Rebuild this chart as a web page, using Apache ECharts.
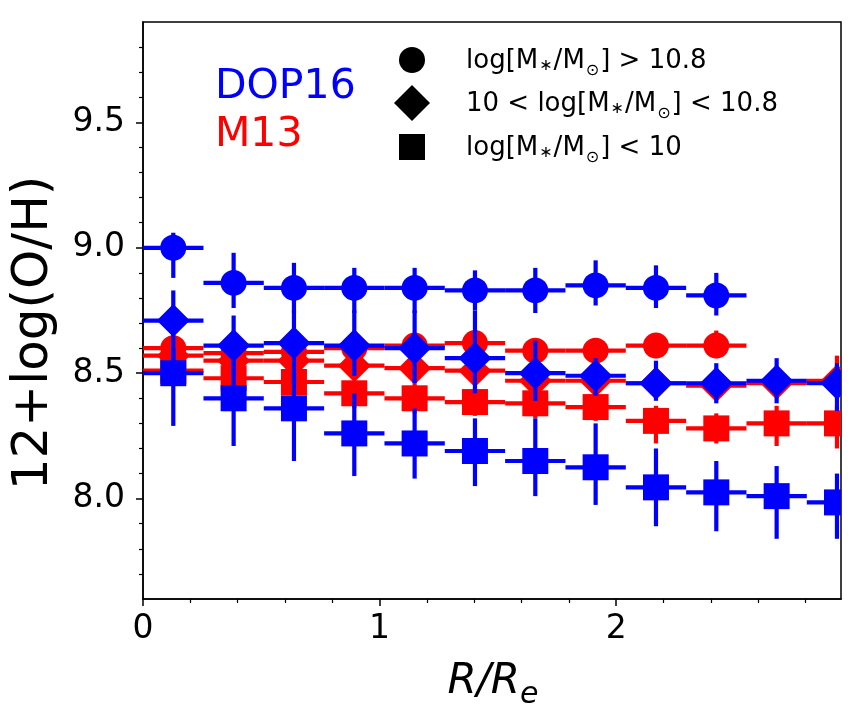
<!DOCTYPE html>
<html>
<head>
<meta charset="utf-8">
<script src="https://cdn.jsdelivr.net/npm/echarts@6.0.0/dist/echarts.min.js"></script>
<style>
  html, body { margin: 0; padding: 0; background: #fff; }
  #chart { width: 864px; height: 721px; }
</style>
</head>
<body>
<div id="chart"></div>
<script>
// radial bins (R/Re), bin half-width used for horizontal error bars
const xCenters = [0.128, 0.383, 0.638, 0.893, 1.148, 1.403, 1.658, 1.913, 2.168, 2.423, 2.678, 2.933];
const xHalfWidth = 0.1275;

// DOP16 (blue)
const dopHigh    = [9.00, 8.86, 8.84, 8.84, 8.84, 8.83, 8.83, 8.85, 8.84, 8.81];
const dopHighLo  = [8.88, 8.76, 8.74, 8.74, 8.74, 8.75, 8.74, 8.77, 8.76, 8.73];
const dopHighHi  = [9.06, 8.98, 8.94, 8.92, 8.92, 8.91, 8.92, 8.95, 8.93, 8.90];
const dopMid     = [8.71, 8.61, 8.62, 8.61, 8.60, 8.56, 8.50, 8.49, 8.46, 8.46, 8.47, 8.46];
const dopMidLo   = [8.55, 8.49, 8.46, 8.49, 8.46, 8.42, 8.39, 8.41, 8.39, 8.38, 8.38, 8.35];
const dopMidHi   = [8.83, 8.73, 8.75, 8.75, 8.75, 8.75, 8.63, 8.56, 8.55, 8.54, 8.56, 8.54];
const dopLow     = [8.50, 8.40, 8.36, 8.26, 8.22, 8.19, 8.15, 8.125, 8.045, 8.025, 8.01, 7.985];
const dopLowLo   = [8.29, 8.21, 8.15, 8.09, 8.08, 8.05, 8.01, 7.975, 7.89, 7.87, 7.84, 7.84];
const dopLowHi   = [8.60, 8.55, 8.50, 8.42, 8.36, 8.32, 8.32, 8.30, 8.20, 8.15, 8.13, 8.10];

// M13 (red)
const m13High    = [8.60, 8.58, 8.585, 8.60, 8.61, 8.62, 8.59, 8.59, 8.61, 8.61];
const m13HighLo  = [8.55, 8.53, 8.54, 8.55, 8.56, 8.57, 8.54, 8.54, 8.56, 8.56];
const m13HighHi  = [8.65, 8.63, 8.63, 8.65, 8.66, 8.67, 8.64, 8.64, 8.66, 8.67];
const m13Mid     = [8.57, 8.55, 8.55, 8.53, 8.52, 8.51, 8.47, 8.47, 8.46, 8.45, 8.46, 8.47];
const m13MidLo   = [8.52, 8.50, 8.50, 8.48, 8.47, 8.46, 8.42, 8.42, 8.41, 8.40, 8.41, 8.40];
const m13MidHi   = [8.62, 8.60, 8.60, 8.58, 8.57, 8.56, 8.52, 8.52, 8.51, 8.50, 8.52, 8.57];
const m13Low     = [8.51, 8.48, 8.465, 8.42, 8.40, 8.385, 8.38, 8.365, 8.31, 8.28, 8.30, 8.30];
const m13LowLo   = [8.45, 8.42, 8.40, 8.36, 8.34, 8.33, 8.32, 8.31, 8.22, 8.22, 8.21, 8.20];
const m13LowHi   = [8.56, 8.54, 8.53, 8.47, 8.46, 8.44, 8.44, 8.42, 8.37, 8.34, 8.37, 8.37];

// axis ticks
const xMajorTicks = [0, 1, 2];
const xMinorTicks = [0.2, 0.4, 0.6, 0.8, 1.2, 1.4, 1.6, 1.8, 2.2, 2.4, 2.6, 2.8];
const yMajorTicks = [8.0, 8.5, 9.0, 9.5];
const yMinorTicks = [7.7, 7.8, 7.9, 8.1, 8.2, 8.3, 8.4, 8.6, 8.7, 8.8, 8.9, 9.1, 9.2, 9.3, 9.4, 9.6, 9.7, 9.8];

const FONT = 'DejaVu Sans';
const BLUE = '#0000ff';
const RED = '#ff0000';

function markerShape(kind, cx, cy) {
    if (kind === 'circle') return { type: 'circle', shape: { cx: cx, cy: cy, r: 13 } };
    if (kind === 'square') return { type: 'rect', shape: { x: cx - 13, y: cy - 13, width: 26, height: 26 } };
    const h = 16.5;
    return { type: 'polygon', shape: { points: [[cx, cy - h], [cx + h, cy], [cx, cy + h], [cx - h, cy]] } };
}

function errSeries(name, color, kind, vals, lo, hi) {
    return {
        type: 'custom',
        name: name,
        clip: true,
        data: vals.map((v, i) => [xCenters[i], v, lo[i], hi[i]]),
        renderItem: function (params, api) {
            const x = api.value(0), y = api.value(1);
            const c = api.coord([x, y]);
            const l = api.coord([x - xHalfWidth, y]);
            const r = api.coord([x + xHalfWidth, y]);
            const t = api.coord([x, api.value(3)]);
            const b = api.coord([x, api.value(2)]);
            const lineStyle = { stroke: color, lineWidth: 4.2 };
            const m = markerShape(kind, c[0], c[1]);
            m.style = { fill: color };
            return {
                type: 'group',
                children: [
                    { type: 'line', shape: { x1: l[0], y1: l[1], x2: r[0], y2: r[1] }, style: lineStyle },
                    { type: 'line', shape: { x1: t[0], y1: t[1], x2: b[0], y2: b[1] }, style: lineStyle },
                    m
                ]
            };
        }
    };
}

const subRich = {
    n: { fontSize: 26, fontFamily: FONT, color: '#000', verticalAlign: 'bottom', padding: [0, 0, 5, 0] },
    a: { fontSize: 16, fontFamily: FONT, color: '#000', verticalAlign: 'bottom', padding: [0, 1, 5, 1] },
    s: { fontSize: 16, fontFamily: FONT, color: '#000', verticalAlign: 'bottom', padding: [0, 1, 0, 1] }
};
const legendRows = [
    { kind: 'circle', y: 60, text: '{n|log[M}{a|∗}{n|/M}{s|⊙}{n|] > 10.8}' },
    { kind: 'diamond', y: 103, text: '{n|10 < log[M}{a|∗}{n|/M}{s|⊙}{n|] < 10.8}' },
    { kind: 'square', y: 147, text: '{n|log[M}{a|∗}{n|/M}{s|⊙}{n|] < 10}' }
];

const graphics = [];
legendRows.forEach(function (row) {
    const m = markerShape(row.kind, 412, row.y);
    if (row.kind === 'diamond') {
        m.shape.points = [[412, row.y - 18], [430, row.y], [412, row.y + 18], [394, row.y]];
    }
    m.style = { fill: '#000' };
    graphics.push(m);
    graphics.push({
        type: 'text', left: 466, top: row.y - 12,
        style: { text: row.text, rich: subRich }
    });
});
graphics.push({ type: 'text', left: 215, top: 67, style: { text: 'DOP16', fill: BLUE, font: '41px "DejaVu Sans"' } });
graphics.push({ type: 'text', left: 215, top: 115, style: { text: 'M13', fill: RED, font: '41px "DejaVu Sans"' } });
graphics.push({
    type: 'text', x: 34, y: 333, rotation: Math.PI / 2,
    style: { text: '12+log(O/H)', fill: '#000', font: '50px "DejaVu Sans"', align: 'center', verticalAlign: 'middle' }
});
graphics.push({
    type: 'text', x: 493, y: 686,
    style: {
        text: '{t|R/R}{e|e}', align: 'center', verticalAlign: 'middle',
        rich: {
            t: { fontSize: 42, fontFamily: FONT, fontStyle: 'italic', color: '#000', verticalAlign: 'bottom', padding: [0, 0, 7, 0] },
            e: { fontSize: 30, fontFamily: FONT, fontStyle: 'italic', color: '#000', verticalAlign: 'bottom' }
        }
    }
});

const chart = echarts.init(document.getElementById('chart'), null, { renderer: 'canvas' });
chart.setOption({
    animation: false,
    backgroundColor: '#fff',
    grid: { left: 143, right: 23, top: 22, bottom: 122, show: true, borderColor: '#000', borderWidth: 1.5, backgroundColor: 'transparent' },
    xAxis: [
        {
            type: 'value', min: 0, max: 2.95, position: 'bottom',
            axisLine: { show: true, onZero: false, lineStyle: { color: '#000', width: 1.5 } },
            axisTick: { show: true, length: 7, customValues: xMajorTicks, lineStyle: { color: '#000', width: 1.5 } },
            axisLabel: { customValues: xMajorTicks, fontSize: 33, fontFamily: FONT, color: '#000', margin: 14 },
            splitLine: { show: false }
        },
        {
            type: 'value', min: 0, max: 2.95, position: 'bottom',
            axisLine: { show: false, onZero: false },
            axisTick: { show: true, length: 4, customValues: xMinorTicks, lineStyle: { color: '#000', width: 1.2 } },
            axisLabel: { show: false },
            splitLine: { show: false }
        }
    ],
    yAxis: [
        {
            type: 'value', min: 7.6, max: 9.9, position: 'left',
            axisLine: { show: true, onZero: false, lineStyle: { color: '#000', width: 1.5 } },
            axisTick: { show: true, length: 7, customValues: yMajorTicks, lineStyle: { color: '#000', width: 1.5 } },
            axisLabel: { customValues: yMajorTicks, fontSize: 33, fontFamily: FONT, color: '#000', margin: 18,
                formatter: function (v) { return Number(v).toFixed(1); } },
            splitLine: { show: false }
        },
        {
            type: 'value', min: 7.6, max: 9.9, position: 'left',
            axisLine: { show: false, onZero: false },
            axisTick: { show: true, length: 4, customValues: yMinorTicks, lineStyle: { color: '#000', width: 1.2 } },
            axisLabel: { show: false },
            splitLine: { show: false }
        }
    ],
    series: [
        errSeries('M13 high', RED, 'circle', m13High, m13HighLo, m13HighHi),
        errSeries('M13 mid', RED, 'diamond', m13Mid, m13MidLo, m13MidHi),
        errSeries('M13 low', RED, 'square', m13Low, m13LowLo, m13LowHi),
        errSeries('DOP16 high', BLUE, 'circle', dopHigh, dopHighLo, dopHighHi),
        errSeries('DOP16 mid', BLUE, 'diamond', dopMid, dopMidLo, dopMidHi),
        errSeries('DOP16 low', BLUE, 'square', dopLow, dopLowLo, dopLowHi)
    ],
    graphic: graphics
});
</script>
</body>
</html>
